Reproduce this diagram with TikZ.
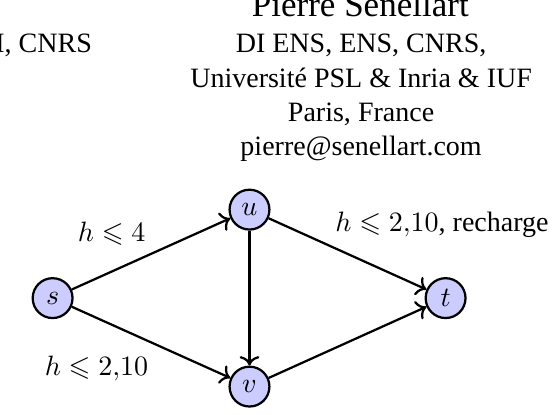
\documentclass[tikz,border=0pt]{standalone}
\usepackage{amssymb}
\usepackage{fontspec}
\setmainfont{Liberation Serif}
\usetikzlibrary{arrows.meta}

\begin{document}
\begin{tikzpicture}[>=To,
  vert/.style={circle, draw, thick, minimum size=5mm, inner sep=0pt, fill=blue!20},
  edge/.style={->, thick, draw=black},
  aff/.style={anchor=base, inner sep=0pt, font=\fontsize{10}{12}\selectfont},
  lbl/.style={anchor=base, inner sep=0pt, font=\fontsize{10}{12}\selectfont}
]
\useasboundingbox (0,0) rectangle (6.95,5.20);
\clip (0,0) rectangle (6.95,5.20);
\node[anchor=base, inner sep=0pt, font=\fontsize{12.5}{15}\selectfont] (name) at (4.52,4.99) {Pierre Senellart};
\node[aff] (aff1) at (4.53,4.54) {DI ENS, ENS, CNRS,};
\node[aff] (aff2) at (4.53,4.10) {Université PSL \& Inria \& IUF};
\node[aff] (aff3) at (4.53,3.68) {Paris, France};
\node[aff] (aff4) at (4.53,3.25) {pierre@senellart.com};
\node[aff, anchor=base east] (affl) at (1.16,4.54) {I, CNRS};
% the graph
\node[vert] (s) at (0.66,1.46) {$s$};
\node[vert] (u) at (3.13,2.57) {$u$};
\node[vert] (v) at (3.13,0.35) {$v$};
\node[vert] (t) at (5.59,1.46) {$t$};
\draw[edge] (s) -- (u);
\draw[edge] (s) -- (v);
\draw[edge] (u) -- (v);
\draw[edge] (u) -- (t);
\draw[edge] (v) -- (t);
\node[lbl] (lsu) at (1.40,2.17) {$h \leqslant 4$};
\node[lbl] (lsv) at (1.21,0.49) {$h \leqslant 2{,}10$};
\node[lbl, anchor=base east] (lut) at (6.89,2.30) {$h \leqslant 2{,}10$, recharge};
\end{tikzpicture}
\end{document}
